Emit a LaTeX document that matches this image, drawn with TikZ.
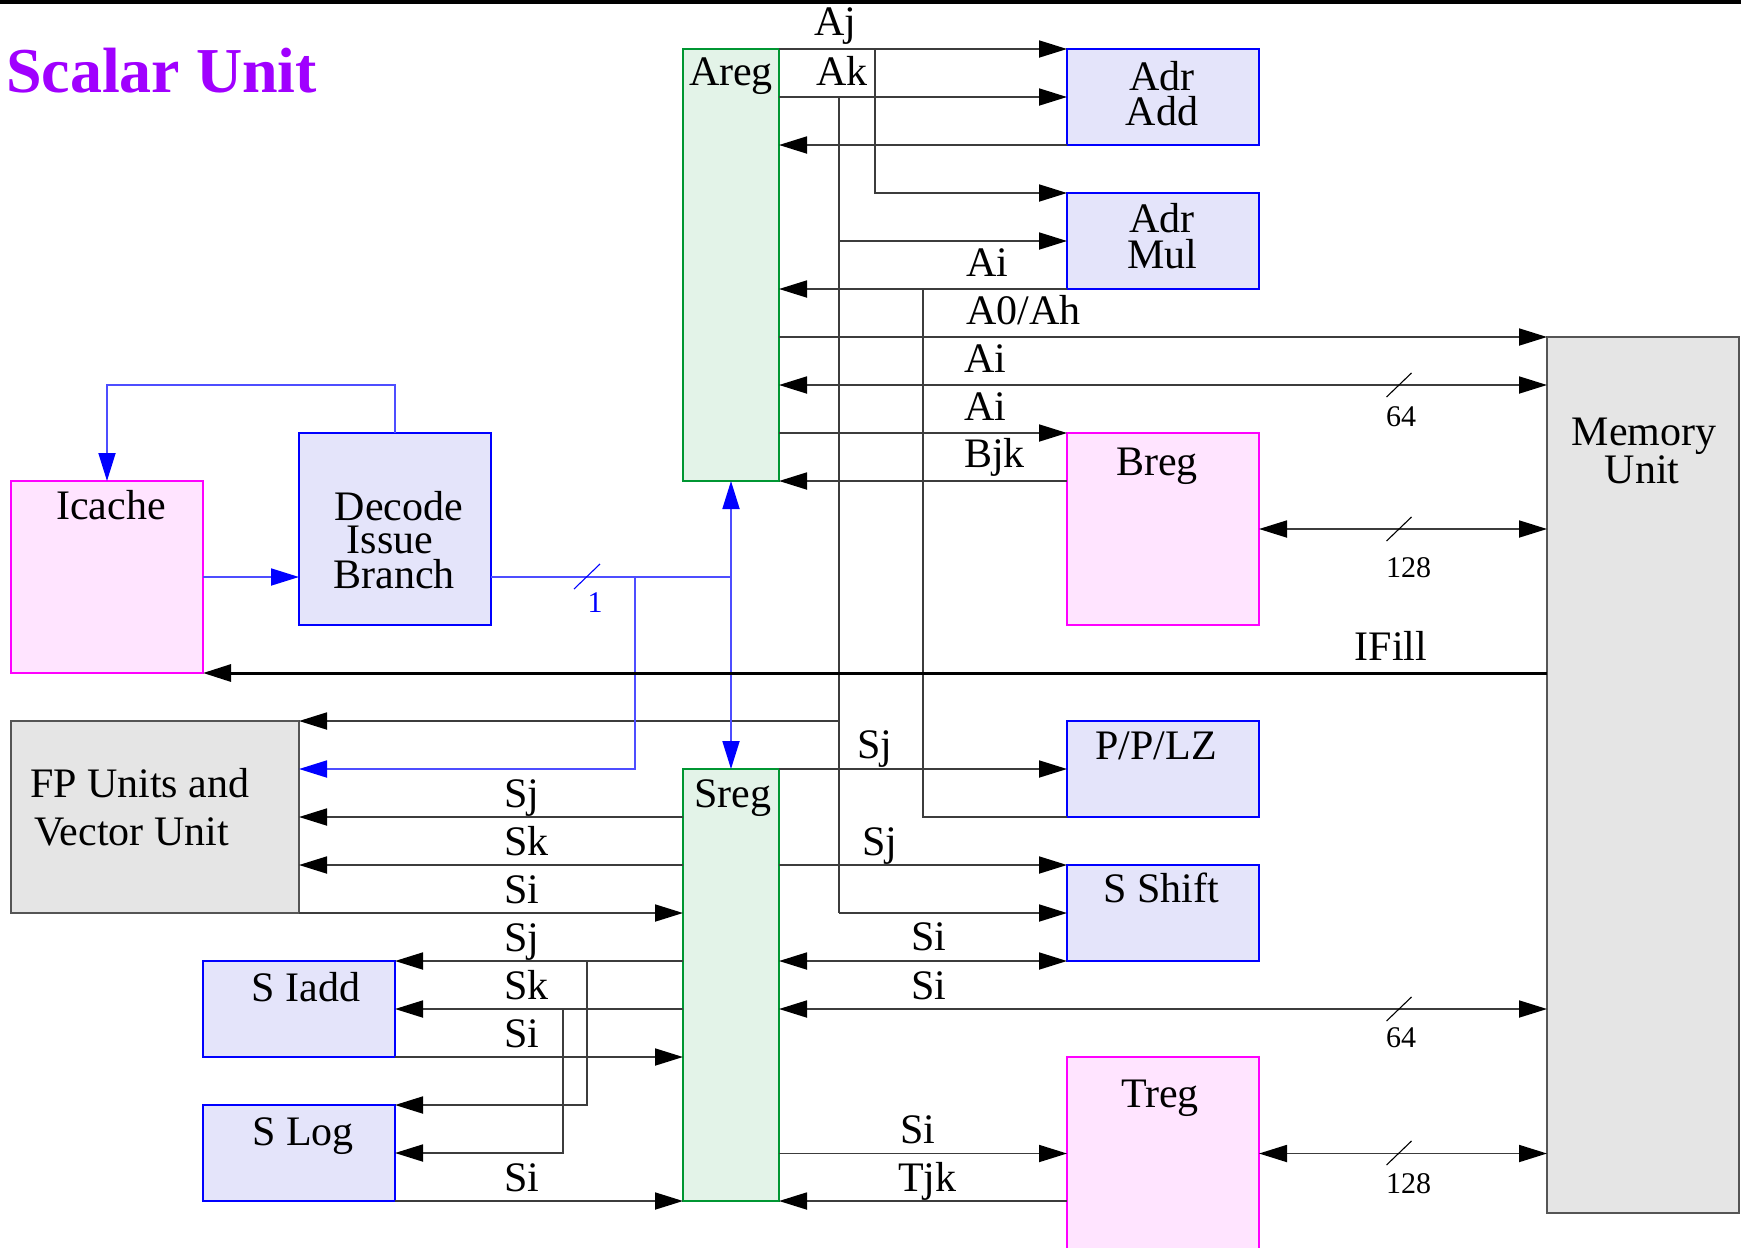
\documentclass[tikz,border=0pt]{standalone}
\usepackage{fontspec}
\setmainfont{Liberation Serif}
\usetikzlibrary{arrows.meta,fit}
\definecolor{titlepurple}{RGB}{160,0,255}
\definecolor{unitblue}{RGB}{0,0,255}
\definecolor{unitfill}{RGB}{228,228,250}
\definecolor{regpink}{RGB}{255,0,255}
\definecolor{pinkfill}{RGB}{255,228,255}
\definecolor{reggreen}{RGB}{0,150,50}
\definecolor{greenfill}{RGB}{227,243,232}
\definecolor{grayline}{RGB}{85,85,85}
\definecolor{grayfill}{RGB}{229,229,229}
\definecolor{wirecol}{RGB}{60,60,60}
\definecolor{bwirecol}{RGB}{77,77,255}
\begin{document}
\begin{tikzpicture}[x=0.5pt,y=-0.5pt,
  every node/.style={inner sep=0pt, outer sep=0pt},
  lbl/.style={font=\fontsize{21}{24}\selectfont, text=black},
  smalllbl/.style={font=\fontsize{15}{17}\selectfont, text=black},
  fbox/.style={inner sep=0pt, outer sep=0pt, line width=1.4pt},
  bluebox/.style={fbox, draw=unitblue, fill=unitfill},
  pinkbox/.style={fbox, draw=regpink, fill=pinkfill},
  greenbox/.style={fbox, draw=reggreen, fill=greenfill},
  graybox/.style={fbox, line width=0.9pt, draw=grayline, fill=grayfill},
  wire/.style={draw=wirecol, line width=0.9pt},
  arr/.style={wire, -{Triangle[length=14pt,width=8.5pt,color=black]}},
  darr/.style={wire, {Triangle[length=14pt,width=8.5pt,color=black]}-{Triangle[length=14pt,width=8.5pt,color=black]}},
  thickarr/.style={draw=black, line width=1.5pt, -{Triangle[length=14pt,width=8.5pt,color=black]}},
  bwire/.style={draw=bwirecol, line width=0.9pt},
  barr/.style={bwire, -{Triangle[length=14pt,width=8.5pt,color=unitblue]}},
  slashmark/.style={draw=black, line width=0.55pt},
]
\useasboundingbox (0,0) rectangle (1741,1248);
\fill[black] (0,0) rectangle (1741,3.5);

% ---------- boxes ----------
\node[greenbox, fit={(683,49)(779,481)}] (areg) {};
\node[greenbox, fit={(683,769)(779,1201)}] (sreg) {};
\node[bluebox, fit={(1067,49)(1259,145)}] (adradd) {};
\node[bluebox, fit={(1067,193)(1259,289)}] (adrmul) {};
\node[pinkbox, fit={(1067,433)(1259,625)}] (breg) {};
\node[bluebox, fit={(1067,721)(1259,817)}] (pplz) {};
\node[bluebox, fit={(1067,865)(1259,961)}] (sshift) {};
\node[pinkbox, fit={(1067,1057)(1259,1250)}] (treg) {};
\node[graybox, fit={(1547,337)(1739,1213)}] (mem) {};
\node[pinkbox, fit={(11,481)(203,673)}] (icache) {};
\node[bluebox, fit={(299,433)(491,625)}] (decode) {};
\node[graybox, fit={(11,721)(299,913)}] (fp) {};
\node[bluebox, fit={(203,961)(395,1057)}] (siadd) {};
\node[bluebox, fit={(203,1105)(395,1201)}] (slog) {};

% ---------- Areg connections ----------
\coordinate (ajsplit) at (875,49);
\coordinate (aksplit) at (839,97);
\draw[arr] (areg.north east) -- (adradd.north west);
\draw[arr] (ajsplit) |- (adrmul.north west);
\draw[arr] (areg.east |- aksplit) -- (adradd.west |- aksplit);
\draw[wire] (aksplit) -- (839,913);
\draw[arr] (839,241) -- (adrmul.west |- 0,241);
\draw[arr] (839,721) -- (fp.north east);
\draw[arr] (839,913) -- (sshift.west |- 0,913);
\draw[arr] (adradd.south west) -- (areg.east |- adradd.south west);
\draw[arr] (adrmul.south west) -- (areg.east |- adrmul.south west);
\draw[wire] (pplz.south west) -| (923,289);
\draw[arr] (areg.east |- mem.north west) -- (mem.north west);
\draw[darr] (areg.east |- 0,385) -- (mem.west |- 0,385);
\draw[arr] (areg.east |- breg.north west) -- (breg.north west);
\draw[arr] (breg.west |- areg.south east) -- (areg.south east);
\draw[darr] (breg.east) -- (mem.west |- breg.east);

% ---------- instruction path (blue) ----------
\coordinate (bjunc) at (areg.south |- icache.east);
\coordinate (bsplit) at (635,577);
\draw[barr] (icache.east) -- (decode.west |- icache.east);
\draw[bwire] (decode.east |- icache.east) -- (bjunc);
\draw[barr] (bjunc) -- (areg.south);
\draw[barr] (bjunc) -- (sreg.north);
\draw[barr] (bsplit) |- (fp.east |- sreg.north);
\draw[barr] (decode.north) -- (decode.north |- 0,385) -| (icache.north);
\draw[draw=unitblue, line width=0.55pt] (574,589) -- (600,564);
\node[smalllbl, text=unitblue, anchor=base] (onelbl) at (595,612) {1};

% ---------- IFill ----------
\draw[thickarr] (mem.west |- icache.south east) -- (icache.south east);

% ---------- Sreg connections ----------
\draw[arr] (sreg.north east) -- (pplz.west |- sreg.north east);
\draw[arr] (sreg.west |- fp.east) -- (fp.east);
\draw[arr] (sreg.west |- 0,865) -- (fp.east |- 0,865);
\draw[arr] (sreg.east |- sshift.north west) -- (sshift.north west);
\draw[arr] (fp.south east) -- (sreg.west |- fp.south east);
\draw[arr] (sreg.west |- siadd.north east) -- (siadd.north east);
\draw[arr] (587,961) |- (slog.north east);
\draw[darr] (sreg.east |- sshift.south west) -- (sshift.south west);
\draw[arr] (sreg.west |- siadd.east) -- (siadd.east);
\draw[arr] (563,1009) |- (slog.east);
\draw[darr] (sreg.east |- siadd.east) -- (mem.west |- siadd.east);
\draw[arr] (siadd.south east) -- (sreg.west |- siadd.south east);
\draw[arr] (sreg.east |- treg.west) -- (treg.west);
\draw[darr] (treg.east) -- (mem.west |- treg.east);
\draw[arr] (slog.south east) -- (sreg.south west);
\draw[arr] (treg.west |- sreg.south east) -- (sreg.south east);

% ---------- bus width marks ----------
\foreach \yy/\tt/\bb in {385/64/426, 529/128/577, 1009/64/1047, 1153/128/1193}{
  \draw[slashmark] (1386.5,\yy+12) -- (1411.5,\yy-12);
  \node[smalllbl, anchor=base west] (w\yy) at (1386,\bb) {\tt};
}

% ---------- box labels ----------
\node[anchor=base west, font=\fontsize{32}{36}\selectfont\bfseries, text=titlepurple] (title) at (6,92) {Scalar Unit};
\node[lbl, anchor=base] (tareg) at (731,85) {Areg};
\node[lbl, anchor=base] (tsreg) at (733,807) {Sreg};
\node[lbl, anchor=base] (tadr1) at (1162,90) {Adr};
\node[lbl, anchor=base] (tadd) at (1162,125) {Add};
\node[lbl, anchor=base] (tadr2) at (1162,232) {Adr};
\node[lbl, anchor=base] (tmul) at (1162,268) {Mul};
\node[lbl, anchor=base] (tbreg) at (1157,475) {Breg};
\node[lbl, anchor=base] (tpplz) at (1156,759) {P/P/LZ};
\node[lbl, anchor=base] (tshift) at (1161,902) {S Shift};
\node[lbl, anchor=base] (ttreg) at (1160,1107) {Treg};
\node[lbl, anchor=base] (tmem1) at (1644,445) {Memory};
\node[lbl, anchor=base] (tmem2) at (1642,483) {Unit};
\node[lbl, anchor=base] (ticache) at (111,519) {Icache};
\node[lbl, anchor=base] (tdec1) at (399,520) {Decode};
\node[lbl, anchor=base] (tdec2) at (390,553) {Issue};
\node[lbl, anchor=base] (tdec3) at (394,588) {Branch};
\node[lbl, anchor=base west] (tfp1) at (30,797) {FP Units and};
\node[lbl, anchor=base west] (tfp2) at (34,845) {Vector Unit};
\node[lbl, anchor=base] (tiadd) at (306,1001) {S Iadd};
\node[lbl, anchor=base] (tlog) at (303,1145) {S Log};

% ---------- wire labels ----------
\node[lbl, anchor=base] (laj) at (835,35) {Aj};
\node[lbl, anchor=base] (lak) at (842,85) {Ak};
\node[lbl, anchor=base west] (lai1) at (966,276) {Ai};
\node[lbl, anchor=base west] (la0) at (966,324) {A0/Ah};
\node[lbl, anchor=base west] (lai2) at (964,372) {Ai};
\node[lbl, anchor=base west] (lai3) at (964,420) {Ai};
\node[lbl, anchor=base west] (lbjk) at (964,467) {Bjk};
\node[lbl, anchor=base] (lifill) at (1391,660) {IFill};
\node[lbl, anchor=base west] (rsj1) at (857,758) {Sj};
\node[lbl, anchor=base west] (rsj2) at (862,855) {Sj};
\node[lbl, anchor=base west] (rsi1) at (911,950) {Si};
\node[lbl, anchor=base west] (rsi2) at (911,999) {Si};
\node[lbl, anchor=base west] (rsi3) at (900,1143) {Si};
\node[lbl, anchor=base west] (rtjk) at (898,1191) {Tjk};
\node[lbl, anchor=base west] (lsj1) at (504,807) {Sj};
\node[lbl, anchor=base west] (lsk1) at (504,855) {Sk};
\node[lbl, anchor=base west] (lsi1) at (504,903) {Si};
\node[lbl, anchor=base west] (lsj2) at (504,951) {Sj};
\node[lbl, anchor=base west] (lsk2) at (504,999) {Sk};
\node[lbl, anchor=base west] (lsi2) at (504,1047) {Si};
\node[lbl, anchor=base west] (lsi3) at (504,1191) {Si};
\end{tikzpicture}
\end{document}
